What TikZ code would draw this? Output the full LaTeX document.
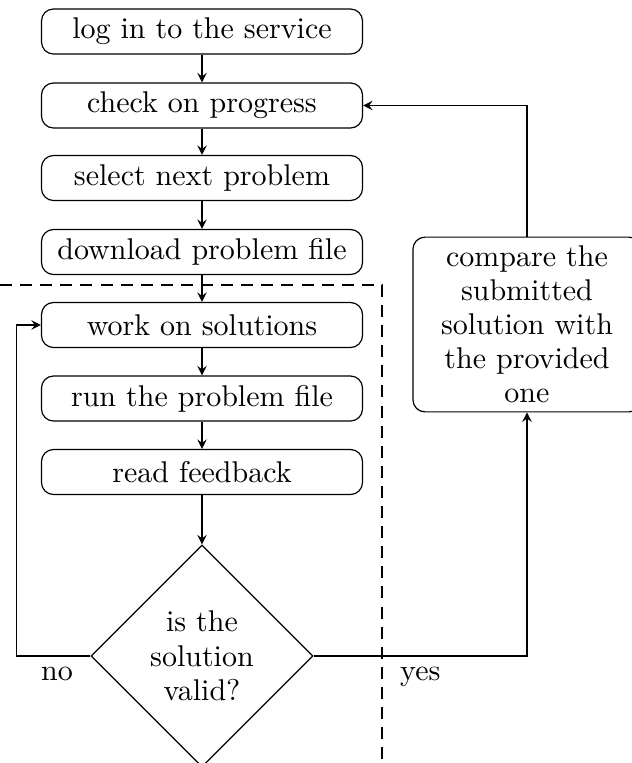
\documentclass[tikz,border=0pt]{standalone}
\usetikzlibrary{shapes.geometric}
\tikzset{
  stepbox/.style={draw, rounded corners, minimum width=107pt, minimum height=15pt, inner sep=3pt},
  checkbox/.style={draw, rounded corners, text width=70pt, align=center, minimum height=58pt, inner sep=3pt,
    font=\fontsize{10}{11.3}\selectfont},
  decision/.style={draw, diamond, aspect=1, minimum width=74pt, minimum height=74pt, inner sep=1pt, align=center,
    font=\fontsize{10}{11.5}\selectfont},
  >=stealth
}

\begin{document}
\begin{tikzpicture}[x=0.3333pt, y=-0.3333pt]
\useasboundingbox (0,0) rectangle (632,763);
% main steps
\node[stepbox] (login) at (202,31.5) {log in to the service};
\node[stepbox] (check) at (202,105.5) {check on progress};
\node[stepbox] (select) at (202,178) {select next problem};
\node[stepbox] (download) at (202,252) {download problem file};
\node[stepbox] (work) at (202,325) {work on solutions};
\node[stepbox] (run) at (202,398.5) {run the problem file};
\node[stepbox] (feedback) at (202,472) {read feedback};
\node[decision] (valid) at (202,656) {is the\\solution\\valid?};
\node[checkbox] (compare) at (527,324.5) {compare the\\submitted\\solution with\\the provided\\one};
% arrows
\draw[->] (login) -- (check);
\draw[->] (check) -- (select);
\draw[->] (select) -- (download);
\draw[->] (download) -- (work);
\draw[->] (work) -- (run);
\draw[->] (run) -- (feedback);
\draw[->] (feedback) -- (valid);
\draw[->] (valid.west) -- node[below, pos=0.45] {no} ++(-74,0) |- (work.west);
\draw[->] (valid.east) -| node[below, pos=0.25] {yes} (compare.south);
\draw[->] (compare.north) |- (check.east);
% dashed frame
\draw[dash pattern=on 4pt off 2.7pt] (0,285) -- (382,285) -- (382,763);
\end{tikzpicture}
\end{document}
